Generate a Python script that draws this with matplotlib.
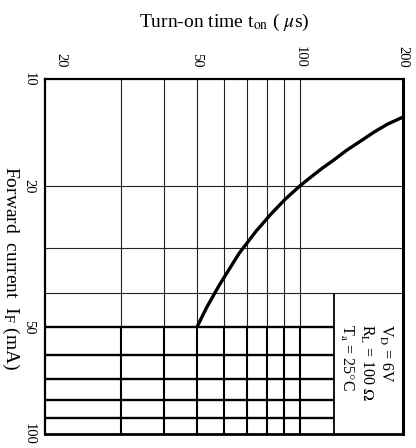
import matplotlib
matplotlib.use("Agg")
import matplotlib.pyplot as plt
from matplotlib.ticker import NullLocator
from matplotlib.transforms import blended_transform_factory

plt.rcParams['font.family'] = ['Liberation Serif', 'DejaVu Serif']
plt.rcParams['mathtext.fontset'] = 'stix'

# Turn-on time vs forward current (log-log)
forward_current = [50, 44.0, 38.0, 31.0, 26.9, 24.1, 21.8, 20,
                   18.85, 17.8, 16.9, 15.9, 14.95, 14.1, 13.4, 12.8]      # mA
turn_on_time = [50, 53.4, 58.2, 66.4, 74.3, 82.0, 90.6, 100,
                107.9, 116.5, 125.7, 136.6, 150.5, 164.8, 180.3, 200]     # us

time_ticks = [20, 50, 100, 200]
current_ticks = [10, 20, 50, 100]
time_grid = [30, 40, 50, 60, 70, 80, 90, 100]
current_grid_upper = [20, 30, 40]
current_grid_lower = [50, 60, 70, 80, 90]
conditions = [r'V$_{\rm D}$ = 6V', r'R$_{\rm L}$ = 100 $\Omega$', r'T$_{\rm a}$ = 25$\degree$C']

W, H = 416, 448
fig = plt.figure(figsize=(W / 100, H / 100), dpi=100)
ax = fig.add_axes([45 / W, (H - 434) / H, (403 - 45) / W, (434 - 79) / H])

ax.set_xscale('log')
ax.set_yscale('log')
ax.set_xlim(18, 200)
ax.set_ylim(100, 10)          # current grows downwards
box_left = 126                # left edge of the conditions box (us)

# thin grid in the upper half
ax.hlines(current_grid_upper, 18, 200, color='#222222', lw=0.8)
ax.vlines(time_grid, 10, 50, color='#222222', lw=0.8)
# heavy grid in the lower half, stopping at the conditions box
ax.hlines(current_grid_lower, 18, box_left, color='black', lw=1.7)
ax.vlines(time_grid, 50, 100, color='black', lw=1.5)
ax.vlines(box_left, 40, 100, color='black', lw=1.3)

ax.plot(turn_on_time, forward_current, color='black', lw=2.4,
        solid_joinstyle='round', solid_capstyle='butt')

# measurement conditions, one column per line, reading top to bottom
tr = blended_transform_factory(ax.transAxes, ax.transData)
for xf, txt in zip([0.952, 0.898, 0.843], conditions):
    ax.text(xf, 49, txt, transform=tr, rotation=-90, ha='center', va='top',
            fontsize=11.5)

# axes: time on top, current on the left, labels turned
ax.xaxis.tick_top()
ax.set_xticks(time_ticks)
ax.set_xticklabels([str(v) for v in time_ticks], rotation=-90, fontsize=10.5)
ax.set_yticks(current_ticks)
ax.set_yticklabels([str(v) for v in current_ticks], rotation=-90, fontsize=10.5,
                   va='center')
ax.xaxis.set_minor_locator(NullLocator())
ax.yaxis.set_minor_locator(NullLocator())
ax.tick_params(axis='x', length=0, pad=8)
ax.tick_params(axis='y', length=0, pad=7)

for side, sp in ax.spines.items():
    sp.set_linewidth(1.6)
ax.spines['right'].set_linewidth(2.2)
ax.spines['bottom'].set_linewidth(2.0)

fig.text(224 / W, 1 - 22 / H, r'Turn-on time t$_{\rm on}$ ( $\mu$s)',
         ha='center', va='center', fontsize=14)
fig.text(11 / W, 1 - 268 / H, r'Forward  current  I$_{\rm F}$ (mA)',
         rotation=-90, ha='center', va='center', fontsize=14)

fig.savefig('out.png', dpi=100)
